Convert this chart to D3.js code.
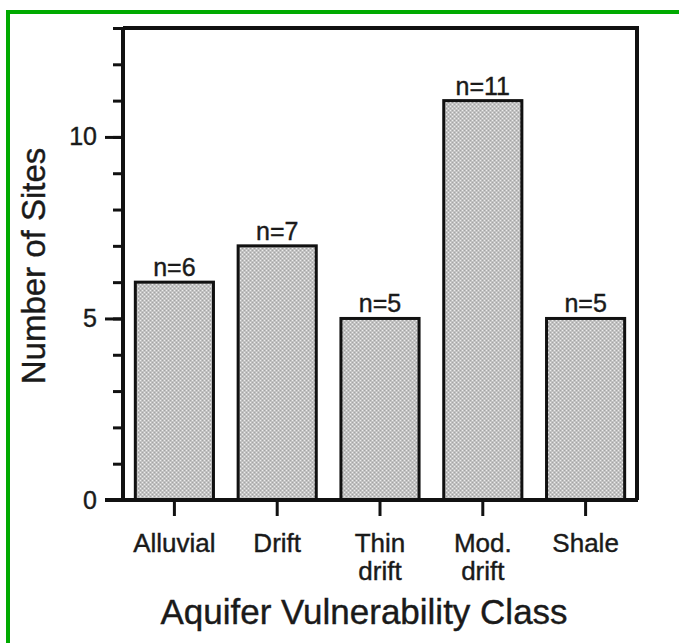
<!DOCTYPE html>
<html><head><meta charset="utf-8">
<script src="https://cdn.jsdelivr.net/npm/d3@7"></script>
<style>html,body{margin:0;padding:0;background:#fff;overflow:hidden}</style>
</head><body>
<script>
const categories = [["Alluvial"], ["Drift"], ["Thin", "drift"], ["Mod.", "drift"], ["Shale"]];
const counts = [6, 7, 5, 11, 5];
const barLabels = ["n=6", "n=7", "n=5", "n=11", "n=5"];
const majorTicks = [0, 5, 10];
const minorTicks = d3.range(0, 14);
const yTitle = "Number of Sites";
const xTitle = "Aquifer Vulnerability Class";

(function draw() {
const W = 679, H = 643;
const svg = d3.select("body").append("svg").attr("width", W).attr("height", H)
  .style("font-family", "'Liberation Sans', Arial, sans-serif");

const defs = svg.append("defs");
const pat = defs.append("pattern").attr("id", "stip").attr("patternUnits", "userSpaceOnUse")
  .attr("width", 4).attr("height", 4);
pat.append("rect").attr("width", 4).attr("height", 4).attr("fill", "#c2c2c2");
pat.append("rect").attr("x", 0).attr("y", 0).attr("width", 1).attr("height", 1).attr("fill", "#ececec");
pat.append("rect").attr("x", 2).attr("y", 2).attr("width", 1).attr("height", 1).attr("fill", "#ececec");
pat.append("rect").attr("x", 2).attr("y", 0).attr("width", 1).attr("height", 1).attr("fill", "#a4a4a4");
pat.append("rect").attr("x", 0).attr("y", 2).attr("width", 1).attr("height", 1).attr("fill", "#a4a4a4");

svg.append("rect").attr("x", 8).attr("y", 12).attr("width", 800).attr("height", 800)
  .attr("fill", "none").attr("stroke", "#00aa00").attr("stroke-width", 4);

const pL = 123, pR = 637, pT = 28, pB = 500;
const x = d3.scaleBand().domain(d3.range(counts.length)).range([pL, pR])
  .paddingInner(0.24).paddingOuter(0.12);
const y = d3.scaleLinear().domain([0, 13]).range([pB, pT]);

const txt = sel => sel.attr("fill", "#1a1a1a").attr("stroke", "#1a1a1a").attr("stroke-width", 0.4);

svg.append("g").selectAll("rect").data(counts).join("rect")
  .attr("x", (d, i) => x(i)).attr("y", d => y(d))
  .attr("width", x.bandwidth()).attr("height", d => y(0) - y(d))
  .attr("fill", "url(#stip)").attr("stroke", "#111").attr("stroke-width", 3);

svg.append("g").selectAll("text").data(counts).join("text")
  .attr("x", (d, i) => x(i) + x.bandwidth() / 2).attr("y", d => y(d) - 6)
  .attr("text-anchor", "middle").attr("font-size", 25)
  .text((d, i) => barLabels[i]).call(txt);

svg.append("path").attr("d", `M${pL},${pT}H${pR}V${pB}`)
  .attr("fill", "none").attr("stroke", "#111").attr("stroke-width", 4);

const yAxisMinor = d3.axisLeft(y).tickValues(minorTicks).tickSize(10).tickFormat("");
const gyMinor = svg.append("g").attr("transform", `translate(${pL},0)`).call(yAxisMinor);
gyMinor.select(".domain").remove();
gyMinor.selectAll("line").attr("stroke", "#111").attr("stroke-width", 3);

const yAxis = d3.axisLeft(y).tickValues(majorTicks).tickSize(18).tickPadding(8).tickFormat(d3.format("d"));
const gy = svg.append("g").attr("transform", `translate(${pL},0)`).call(yAxis);
gy.select(".domain").attr("stroke", "#111").attr("stroke-width", 4).attr("d", `M0,${pB}V${pT}`);
gy.selectAll("line").attr("stroke", "#111").attr("stroke-width", 3);
gy.selectAll("text").attr("font-size", 25)
  .attr("font-family", "'Liberation Sans', Arial, sans-serif").call(txt);

const xAxis = d3.axisBottom(x).tickSize(16).tickFormat("");
const gx = svg.append("g").attr("transform", `translate(0,${pB})`).call(xAxis);
gx.select(".domain").attr("stroke", "#111").attr("stroke-width", 4).attr("d", `M${pL - 18},0H${pR + 1}`);
gx.selectAll("line").attr("stroke", "#111").attr("stroke-width", 3);

const cl = svg.append("g").selectAll("text").data(categories).join("text")
  .attr("text-anchor", "middle").attr("font-size", 26)
  .attr("x", (d, i) => x(i) + x.bandwidth() / 2).attr("y", 552).call(txt);
cl.selectAll("tspan").data(d => d).join("tspan")
  .attr("x", function() { return this.parentNode.getAttribute("x"); })
  .attr("dy", (d, j) => j === 0 ? 0 : 28).text(d => d);

svg.append("text").attr("x", 364).attr("y", 624)
  .attr("text-anchor", "middle").attr("font-size", 35).text(xTitle).call(txt);
svg.append("text").attr("transform", `translate(45,${(pT + pB) / 2 + 2}) rotate(-90)`)
  .attr("text-anchor", "middle").attr("font-size", 33).text(yTitle).call(txt);
})();
</script>
</body></html>
